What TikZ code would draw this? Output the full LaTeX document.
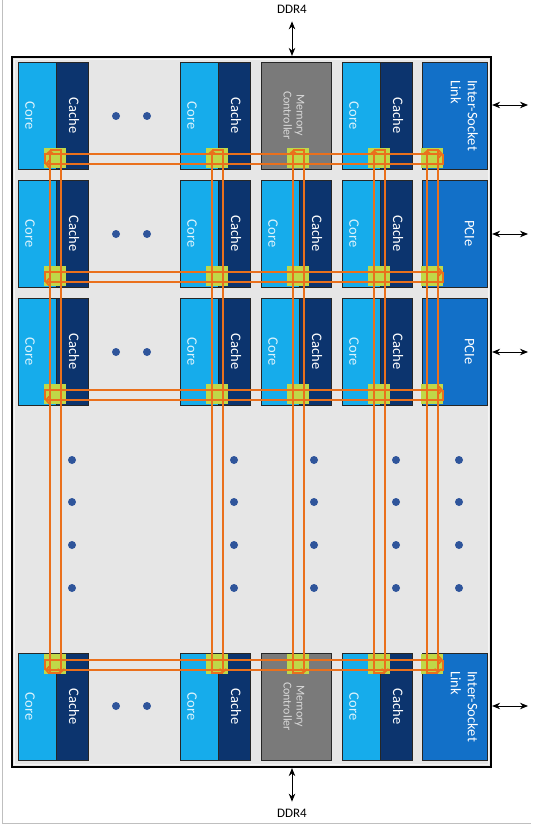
\documentclass[tikz,border=0pt]{standalone}
\usepackage{fontspec}
\setmainfont{Carlito}
\usetikzlibrary{arrows.meta,positioning,calc}

\definecolor{coreblue}{RGB}{22,172,235}
\definecolor{cachenavy}{RGB}{12,52,110}
\definecolor{mcgray}{RGB}{122,122,122}
\definecolor{linkblue}{RGB}{18,112,200}
\definecolor{chipgray}{RGB}{230,230,230}
\definecolor{stopgreen}{RGB}{192,216,72}
\definecolor{ringorange}{RGB}{234,112,28}
\definecolor{dotblue}{RGB}{47,85,155}

\begin{document}
\begin{tikzpicture}[
  x=1pt, y=-1pt,
  chipbox/.style={rectangle, draw=black, line width=2.2pt, fill=chipgray,
                  inner sep=0pt, outer sep=0pt},
  tilebox/.style={rectangle, draw=black!85, line width=0.7pt, inner sep=0pt,
                  outer sep=0pt, anchor=north west, minimum height=107pt},
  corebox/.style={tilebox, fill=coreblue, minimum width=38pt},
  cachebox/.style={tilebox, fill=cachenavy, minimum width=32pt},
  mcbox/.style={tilebox, fill=mcgray, minimum width=70pt},
  linkbox/.style={tilebox, fill=linkblue, minimum width=65pt},
  tiletext/.style={rotate=-90, inner sep=0pt, font=\fontsize{14.5}{17}\selectfont},
  coretext/.style={tiletext, text=white!85!coreblue},
  cachetext/.style={tiletext, text=white},
  mctext/.style={tiletext, align=center, text=black!15,
                 font=\fontsize{12}{13}\selectfont},
  linktext/.style={tiletext, align=left, text=white},
  stopbox/.style={rectangle, fill=stopgreen, inner sep=0pt, outer sep=0pt,
                  anchor=north west, minimum width=22pt, minimum height=20pt},
  ring/.style={draw=ringorange, line width=1.7pt,
               -{Straight Barb[length=3pt,width=7pt]}},
  dot/.style={circle, fill=dotblue, inner sep=0pt, minimum size=8pt},
  iolabel/.style={inner sep=0pt, font=\fontsize{13}{15}\selectfont},
  io/.style={line width=0.9pt,
             {Stealth[length=8pt,width=6.5pt]}-{Stealth[length=8pt,width=6.5pt]}}
]
\useasboundingbox (0,0) rectangle (533,829);

% Page frame
\draw[black!25, line width=0.8pt] (2,0) -- (2,823) -- (531,823);

% Chip
\node[chipbox, minimum width=479pt, minimum height=710pt] (chip) at (251.5,412) {};
\draw[white!60!chipgray, line width=1pt]
  ([xshift=2.4pt,yshift=-2.4pt]chip.north west) rectangle
  ([xshift=-2.4pt,yshift=2.4pt]chip.south east);

% Core + cache tiles
\foreach \r/\ty in {1/62,2/180,3/298,4/653} {
  \foreach \c/\tx in {1/18,2/180,4/342} {
    \node[corebox] (co\r\c) at (\tx,\ty) {};
    \node[cachebox, right=0pt of co\r\c] (ca\r\c) {};
    \node[coretext] at ([xshift=-7pt]co\r\c.center) {Core};
    \node[cachetext] at ([xshift=2pt]ca\r\c.center) {Cache};
  }
}
\foreach \r/\ty in {2/180,3/298} {
  \node[corebox] (co\r3) at (261,\ty) {};
  \node[cachebox, right=0pt of co\r3] (ca\r3) {};
  \node[coretext] at ([xshift=-7pt]co\r3.center) {Core};
  \node[cachetext] at ([xshift=2pt]ca\r3.center) {Cache};
  % PCIe
  \node[linkbox] (lk\r) at (422,\ty) {};
  \node[linktext] at ([xshift=15pt]lk\r.center) {PCIe};
}

% Memory controllers and inter-socket links
\foreach \r/\ty in {1/62,4/653} {
  \node[mcbox] (mc\r) at (261,\ty) {};
  \node[mctext] at ([xshift=-2pt]mc\r.center) {Memory\\Controller};
  \node[linkbox] (lk\r) at (422,\ty) {};
  \node[linktext] at ([xshift=10pt]lk\r.center) {Inter-Socket\\Link};
}

% Mesh stops
\foreach \r/\sy in {1/148,2/266,3/384,4/654} {
  \foreach \c/\sx in {1/44,2/206,3/287,4/368,5/421} {
    \node[stopbox] (s\r\c) at (\sx,\sy) {};
  }
}

% Row rings
\foreach \r in {1,...,4} {
  \draw[ring] ([xshift=1pt,yshift=-16pt]s\r1.north west)
    -- ([xshift=1pt,yshift=-6pt]s\r1.north west) -- ([yshift=-6pt]s\r5.north east);
  \draw[ring] ([yshift=-6pt]s\r5.north east)
    -- ([yshift=-16pt]s\r5.north east) -- ([xshift=1pt,yshift=-16pt]s\r1.north west);
}

% Column rings
\foreach \c in {1,...,5} {
  \draw[ring] ([xshift=17pt,yshift=1pt]s4\c.south west)
    -- ([xshift=6pt,yshift=1pt]s4\c.south west) -- ([xshift=6pt,yshift=-2pt]s1\c.north west);
  \draw[ring] ([xshift=6pt,yshift=-2pt]s1\c.north west)
    -- ([xshift=17pt,yshift=-2pt]s1\c.north west) -- ([xshift=17pt,yshift=1pt]s4\c.south west);
}

% Ellipsis dots
\foreach \ry in {116,234,352,706} {
  \foreach \dx in {116,147} {
    \node[dot] at (\dx,\ry) {};
  }
}
\foreach \dx in {72,234,314,396,459} {
  \foreach \dy in {460,502,545,588} {
    \node[dot] at (\dx,\dy) {};
  }
}

% DDR4 and off-chip links
\node[iolabel] (ddrtop) at (292,9) {DDR4};
\node[iolabel] (ddrbot) at (292,813) {DDR4};
\draw[io] ([yshift=-8pt]ddrtop.south) -- ([yshift=1.1pt]ddrtop |- chip.north);
\draw[io] ([yshift=-1.1pt]ddrbot |- chip.south) -- ([yshift=7pt]ddrbot.north);
\foreach \r/\ay in {1/105,2/234,3/352,4/706} {
  \coordinate (out\r) at (528,\ay);
  \draw[io] ([xshift=1.1pt]chip.east |- out\r) -- (out\r);
}

\end{tikzpicture}
\end{document}
